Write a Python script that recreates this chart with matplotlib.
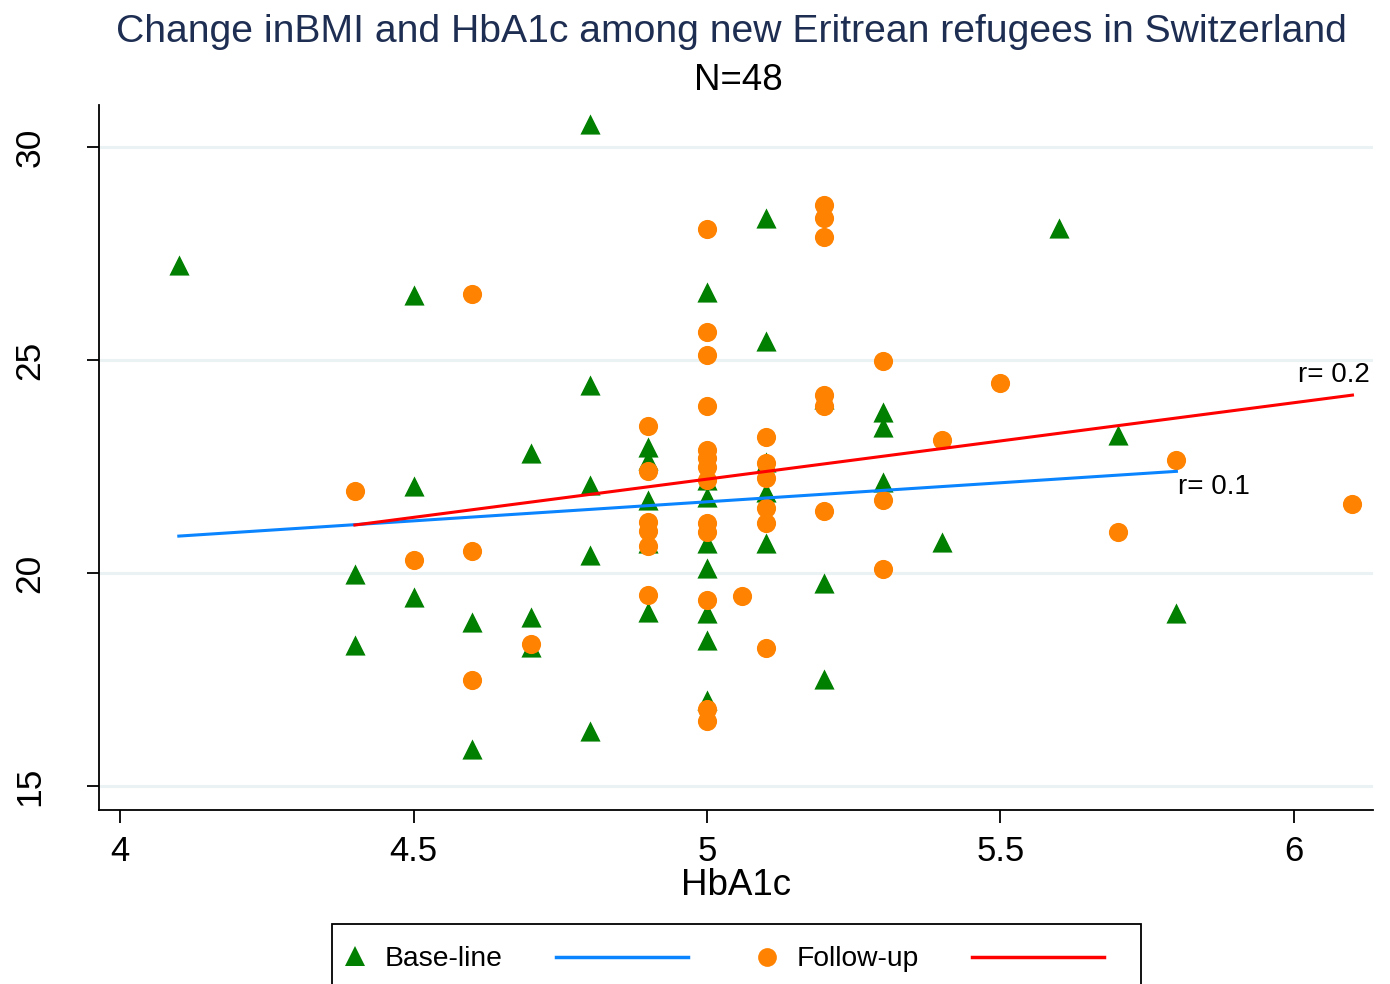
import matplotlib
matplotlib.use("Agg")
import matplotlib.pyplot as plt
from matplotlib.patches import Rectangle
from matplotlib.lines import Line2D

plt.rcParams['font.family'] = ['Liberation Sans', 'DejaVu Sans']

# Base-line (green triangles)
base_x = [4.1, 4.4, 4.4, 4.5, 4.5, 4.5, 4.6, 4.6, 4.7, 4.7, 4.7,
          4.8, 4.8, 4.8, 4.8, 4.8,
          4.9, 4.9, 4.9, 4.9, 4.9,
          5.0, 5.0, 5.0, 5.0, 5.0, 5.0, 5.0, 5.0,
          5.1, 5.1, 5.1, 5.1, 5.1,
          5.2, 5.2, 5.2, 5.3, 5.3, 5.3, 5.4, 5.6, 5.7, 5.8]
base_y = [27.23, 19.98, 18.31, 26.53, 22.04, 19.44, 18.85, 15.87, 22.82, 18.97, 18.26,
          30.54, 24.41, 22.07, 20.42, 16.29,
          22.96, 22.65, 21.71, 20.70, 19.08,
          26.60, 22.18, 21.78, 20.70, 20.12, 19.06, 18.43, 17.02,
          28.33, 25.45, 22.60, 21.90, 20.70,
          24.10, 19.77, 17.51, 23.78, 23.43, 22.14, 20.73, 28.10, 23.24, 19.06]

# Follow-up (orange circles)
follow_x = [4.4, 4.5, 4.6, 4.6, 4.6, 4.7,
            4.9, 4.9, 4.9, 4.9, 4.9, 4.9,
            5.0, 5.0, 5.0, 5.0, 5.0, 5.0, 5.0, 5.0, 5.0, 5.0, 5.0, 5.0, 5.0,
            5.06,
            5.1, 5.1, 5.1, 5.1, 5.1, 5.1,
            5.2, 5.2, 5.2, 5.2, 5.2, 5.2,
            5.3, 5.3, 5.3, 5.4, 5.5, 5.7, 5.8, 6.1]
follow_y = [21.92, 20.31, 26.55, 20.52, 17.49, 18.33,
            23.45, 22.39, 21.20, 21.00, 20.63, 19.48,
            28.08, 25.66, 25.12, 23.92, 22.89, 22.70, 22.49, 22.18, 21.17, 20.96, 19.37, 16.81, 16.53,
            19.46,
            23.19, 22.58, 22.23, 21.53, 21.17, 18.24,
            28.64, 28.33, 27.89, 24.18, 23.92, 21.46,
            24.98, 21.71, 20.09, 23.12, 24.46, 20.96, 22.65, 21.62]

# Fitted lines (endpoints)
base_fit_x = [4.1, 5.8]
base_fit_y = [20.87, 22.39]
follow_fit_x = [4.4, 6.1]
follow_fit_y = [21.13, 24.18]

x_ticks = [4, 4.5, 5, 5.5, 6]
x_ticklabels = ["4", "4.5", "5", "5.5", "6"]
y_ticks = [15, 20, 25, 30]
y_ticklabels = ["15", "20", "25", "30"]

W, H = 1390, 984
fig = plt.figure(figsize=(W / 100, H / 100), dpi=100)
fig.patch.set_facecolor('white')

left, right, top, bottom = 99, 1373, 105, 810
ax = fig.add_axes([left / W, 1 - bottom / H, (right - left) / W, (bottom - top) / H])

for yt in y_ticks:
    ax.axhline(yt, color='#eaf2f3', lw=2.2, zorder=0)

ax.scatter(base_x, base_y, marker='^', s=14.5 ** 2, color='#007f00', linewidths=0, zorder=3)
ax.scatter(follow_x, follow_y, marker='o', s=13.8 ** 2, color='#ff8200', linewidths=0, zorder=4)
ax.plot(base_fit_x, base_fit_y, color='#0a84ff', lw=2.2, zorder=5)
ax.plot(follow_fit_x, follow_fit_y, color='#ff0000', lw=2.2, zorder=5)

ax.text(6.007, 24.65, "r= 0.2", fontsize=20, ha='left', va='center')
ax.text(5.802, 22.02, "r= 0.1", fontsize=20, ha='left', va='center')

ax.set_xlim(3.964, 6.135)
ax.set_ylim(14.44, 30.99)
ax.set_xticks(x_ticks)
ax.set_xticklabels(x_ticklabels, fontsize=25)
ax.set_yticks(y_ticks)
ax.set_yticklabels(y_ticklabels, fontsize=25.5, rotation=90, va='center')
ax.tick_params(axis='both', direction='out', length=9, width=1.3, color='black')
ax.tick_params(axis='x', pad=9)
ax.tick_params(axis='y', pad=29)
for s in ['top', 'right']:
    ax.spines[s].set_visible(False)
for s in ['left', 'bottom']:
    ax.spines[s].set_linewidth(1.3)
ax.set_xlabel("HbA1c", fontsize=26.5, labelpad=0)

fig.text(731 / W, 1 - 32 / H, "Change inBMI and HbA1c among new Eritrean refugees in Switzerland",
         fontsize=28.2, color='#1e2e52', ha='center', va='center')
fig.text(738 / W, 1 - 80 / H, "N=48", fontsize=26.4, ha='center', va='center')

# Legend (drawn manually, box cut at figure bottom)
fig.add_artist(Rectangle((332 / W, -0.05), (1141 - 332) / W, (1 - 924 / H) + 0.05,
                         transform=fig.transFigure, facecolor='white', edgecolor='black', lw=1.3))
ly = 1 - 959 / H
fig.add_artist(Line2D([355 / W], [ly + 0.003], marker='^', markersize=14, color='#007f00',
                      markeredgewidth=0, linestyle='none', transform=fig.transFigure))
fig.text(385 / W, ly, "Base-line", fontsize=20.3, ha='left', va='center')
fig.add_artist(Line2D([556 / W, 688 / W], [1 - 957 / H] * 2, color='#0a84ff', lw=2.5, transform=fig.transFigure))
fig.add_artist(Line2D([767 / W], [1 - 957 / H], marker='o', markersize=13.5, color='#ff8200',
                      markeredgewidth=0, linestyle='none', transform=fig.transFigure))
fig.text(797 / W, ly, "Follow-up", fontsize=20.3, ha='left', va='center')
fig.add_artist(Line2D([972 / W, 1104 / W], [1 - 957 / H] * 2, color='#ff0000', lw=2.5, transform=fig.transFigure))

fig.savefig("out.png", dpi=100, facecolor='white')
